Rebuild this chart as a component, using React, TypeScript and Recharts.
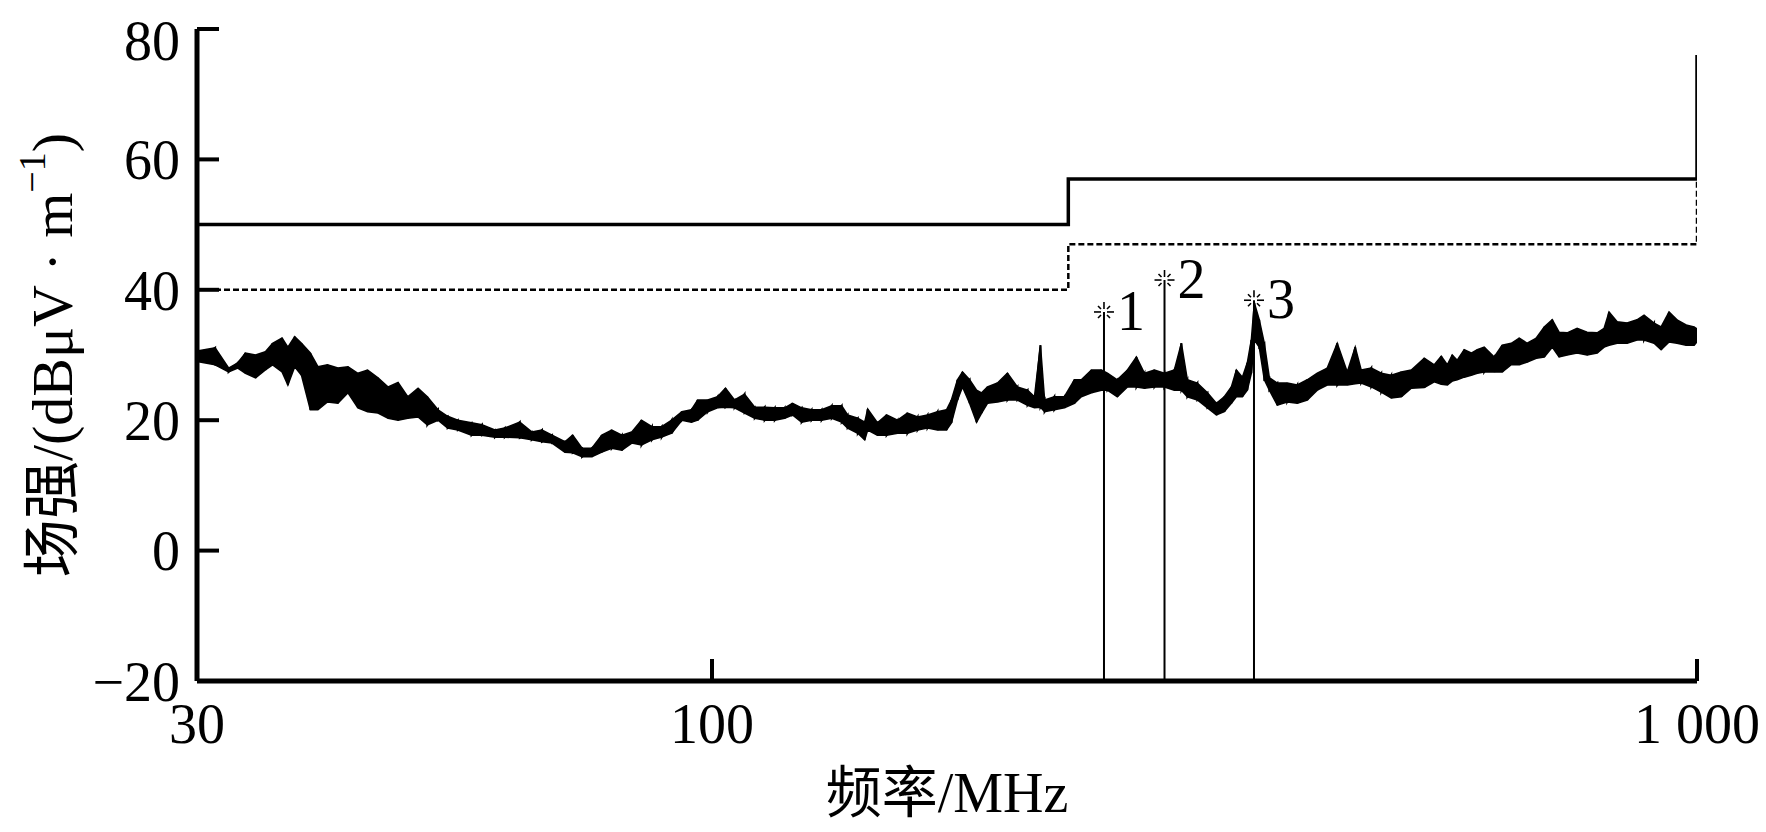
import { Area, ComposedChart, Line, Scatter, XAxis, YAxis } from "recharts";

const traceFreq = [
  30, 31.3, 32.3, 33.0, 33.6, 34.4, 35.2, 35.8, 36.6, 37.1, 37.7, 38.3, 39.1, 39.8, 40.7, 41.7, 42.7, 43.7,
  44.7, 45.8, 46.9, 48.0, 49.1, 50.3, 51.4, 52.7, 53.9, 55.2, 57.0, 58.4, 60.2, 61.6, 63.8, 65.6, 67.2, 68.8,
  70.9, 72.2, 73.8, 75.5, 77.3, 79.1, 81.0, 82.9, 84.8, 86.9, 88.9, 91.0, 93.2, 95.3, 96.7, 99.0, 101.3, 103.2,
  105.4, 107.9, 110.5, 113.1, 115.8, 118.5, 120.7, 123.3, 126.2, 129.2, 132.3, 135.4, 137.3, 140.6, 142.9,
  143.9, 147.2, 150.4, 154.3, 157.9, 161.7, 165.5, 169.4, 173.0, 175.0, 177.5, 179.6, 182.6, 185.6, 187.8,
  190.4, 194.9, 199.5, 204.2, 209.1, 212.5, 215.5, 217.6, 222.6, 227.9, 233.3, 237.1, 242.8, 248.5, 252.0,
  257.9, 264.1, 269.7, 274.8, 281.3, 287.9, 294.7, 299.6, 303.8, 311.0, 318.4, 325.1, 331.2, 336.7, 340.7,
  345.5, 349.5, 352.8, 355.3, 359.4, 363.7, 368.0, 374.9, 383.7, 392.8, 402.1, 411.6, 421.3, 431.3, 441.5,
  449.8, 456.1, 467.0, 478.0, 489.3, 501.0, 512.8, 528.6, 541.1, 550.0, 557.8, 564.3, 570.9, 580.3, 589.9,
  598.3, 608.1, 622.5, 634.2, 647.8, 660.0, 672.4, 686.8, 699.7, 712.9, 724.4, 738.1, 755.6, 773.4, 791.8,
  804.8, 814.2, 829.7, 849.2, 869.2, 883.6, 904.5, 919.5, 936.8, 954.4, 974.8, 993.1, 1000,
];
const traceLow = [
  29.0, 28.5, 27.4, 28.0, 27.2, 26.5, 27.7, 28.5, 27.4, 25.4, 28.2, 26.9, 21.6, 21.6, 22.8, 22.6, 24.2, 21.9,
  21.3, 21.1, 20.3, 20.0, 20.3, 20.5, 19.3, 20.0, 18.8, 18.5, 17.7, 17.7, 17.4, 17.4, 17.3, 17.0, 16.7, 16.5,
  15.1, 15.0, 14.4, 14.4, 15.1, 15.7, 15.4, 16.5, 16.2, 17.0, 17.4, 18.0, 20.0, 19.7, 20.0, 21.3, 21.9, 22.0,
  21.9, 21.1, 20.3, 20.0, 20.0, 20.3, 20.8, 19.7, 20.0, 20.0, 20.3, 19.7, 18.8, 18.0, 17.0,
  18.5, 17.7, 17.7, 18.0, 18.0, 18.5, 18.8, 18.5, 18.5, 19.6, 23.1, 25.1, 22.6, 19.7, 21.1,
  22.6, 22.8, 23.1, 23.1, 22.3, 21.9, 22.0, 21.3, 21.6, 21.9, 22.6, 23.6, 24.2, 24.6, 24.6,
  23.6, 25.1, 25.1, 24.9, 25.1, 25.1, 24.6, 24.6, 23.6, 23.1, 21.9, 20.8, 21.3, 22.6, 23.6,
  23.6, 24.6, 27.2, 32.3, 31.2, 26.2, 24.6, 22.3, 22.8, 22.6, 23.1, 24.6, 25.4, 25.4, 25.4,
  25.6, 25.7, 25.1, 24.3, 23.4, 23.6, 24.9, 25.0, 25.9, 25.5, 25.4, 26.0, 26.2, 26.6, 26.9,
  27.2, 27.4, 27.4, 27.4, 28.5, 28.5, 28.9, 29.5, 29.7, 31.2, 29.7, 30.0, 30.3, 30.0, 30.3,
  31.2, 31.5, 31.8, 31.8, 32.3, 32.3, 31.8, 30.8, 32.0, 31.8, 31.5, 31.5, 32.0,
];
const traceHigh = [
  30.6, 31.1, 28.0, 28.8, 30.3, 30.0, 30.5, 31.8, 32.6, 31.2, 32.8, 31.8, 30.3, 28.2, 28.5, 28.0, 28.2, 27.2,
  27.7, 26.5, 25.1, 25.8, 23.6, 24.9, 23.6, 21.6, 20.6, 20.0, 19.6, 19.3, 18.5, 18.8, 19.7, 18.2, 18.5, 17.7,
  16.7, 17.7, 15.7, 15.7, 17.7, 18.5, 17.7, 18.2, 20.0, 19.0, 19.0, 20.0, 21.3, 21.6, 23.1, 23.1, 23.6, 24.9,
  23.1, 24.0, 22.0, 22.0, 21.9, 21.9, 22.6, 21.9, 21.6, 21.6, 22.2, 22.2, 20.8, 20.3, 19.7,
  21.7, 19.6, 20.8, 20.0, 21.1, 20.5, 20.8, 21.3, 21.6, 23.1, 26.2, 27.4, 26.2, 24.6, 24.2,
  25.1, 25.7, 27.2, 25.1, 24.6, 23.6, 31.5, 23.1, 23.6, 23.6, 26.2, 26.2, 27.7, 27.7, 27.2,
  26.2, 27.7, 29.7, 27.2, 27.7, 27.2, 27.7, 31.8, 26.2, 25.7, 24.2, 22.6, 23.6, 25.1, 27.7,
  26.6, 28.8, 32.3, 38.0, 35.4, 31.8, 26.5, 25.7, 25.7, 25.4, 26.2, 27.2, 28.0, 31.8, 27.4,
  31.2, 27.7, 28.0, 27.2, 26.9, 27.4, 27.7, 29.5, 28.5, 29.8, 28.5, 30.0, 29.2, 30.8, 30.3,
  30.8, 31.2, 29.7, 31.5, 31.8, 32.6, 31.8, 32.6, 34.3, 35.4, 33.5, 33.4, 34.1, 33.5, 33.4,
  34.1, 36.6, 35.1, 34.9, 35.4, 36.1, 34.9, 34.3, 36.6, 35.4, 34.6, 34.3, 34.0,
];

// limit lines (stepped)
const limitFreq = [30, 230, 230, 1000, 1000];
const limitSolid = [50, 50, 57, 57, 76];
const limitDashed = [40, 40, 47, 47, 57];

// peak markers
const markerFreq = [250, 288, 355];
const markerLevel = [36.6, 41.5, 38.4];
const markerName = ["1", "2", "3"];

const xTicks = [30, 100, 1000];
const yTicks = [-20, 0, 20, 40, 60, 80];

const FONT = "'Liberation Serif', 'Times New Roman', 'Noto Sans CJK SC', serif";

const trace = traceFreq.flatMap((f, i) => [
  { f, v: traceHigh[i] },
  { f, v: traceLow[i] },
]);
const band = traceFreq.map((f, i) => ({ f, r: [traceLow[i], traceHigh[i]] }));
const solid = limitFreq.map((f, i) => ({ f, v: limitSolid[i] }));
const dashed = limitFreq.map((f, i) => ({ f, v: limitDashed[i] }));
const markers = markerFreq.map((f, i) => ({ f, v: markerLevel[i], name: markerName[i] }));

const Star = (props: any) => {
  const { cx, cy, payload } = props;
  const r = 10;
  const g = 3;
  return (
    <g>
      <g stroke="#000" strokeWidth={1.6}>
        <line x1={cx - r} y1={cy} x2={cx - g} y2={cy} />
        <line x1={cx + g} y1={cy} x2={cx + r} y2={cy} />
        <line x1={cx} y1={cy - r} x2={cx} y2={cy - g} />
        <line x1={cx - 6} y1={cy - 6} x2={cx - 3} y2={cy - 3} />
        <line x1={cx + 6} y1={cy - 6} x2={cx + 3} y2={cy - 3} />
        <line x1={cx - 6} y1={cy + 6} x2={cx - 3} y2={cy + 3} />
        <line x1={cx + 6} y1={cy + 6} x2={cx + 3} y2={cy + 3} />
      </g>
      <text x={cx + 13} y={cy + 18} fontSize={56} fontFamily={FONT} fill="#000">
        {payload.name}
      </text>
    </g>
  );
};

const YTitle = (props: any) => {
  const vb = props.viewBox || {};
  const cx = vb.x + 44;
  const cy = vb.y + vb.height / 2;
  return (
    <text
      x={cx}
      y={cy}
      transform={`rotate(-90, ${cx}, ${cy})`}
      textAnchor="middle"
      dominantBaseline="central"
      fontSize={58}
      fontFamily={FONT}
      fill="#000"
    >
      <tspan>场强/(dBμV · m</tspan>
      <tspan dy={-20} fontSize={38}>−1</tspan>
      <tspan dy={20}>)</tspan>
    </text>
  );
};

const XTitle = (props: any) => {
  const vb = props.viewBox || {};
  return (
    <text
      x={vb.x + vb.width / 2}
      y={vb.y + 131}
      textAnchor="middle"
      fontSize={56}
      fontFamily={FONT}
      fill="#000"
    >
      频率/MHz
    </text>
  );
};

const tickStyle = { fontSize: 56, fontFamily: FONT, fill: "#000" };

export default function App() {
  return (
    <div style={{ width: 1758, height: 816, background: "#fff" }}>
      <ComposedChart
        width={1758}
        height={816}
        margin={{ top: 21, right: 69, bottom: 0, left: 0 }}
      >
        <XAxis
          dataKey="f"
          type="number"
          scale="log"
          domain={[30, 1000]}
          ticks={xTicks}
          allowDataOverflow
          height={143}
          tickSize={-22}
          tickMargin={44}
          tick={tickStyle}
          tickFormatter={(v: number) => (v === 1000 ? "1 000" : String(v))}
          axisLine={{ stroke: "#000", strokeWidth: 5 }}
          tickLine={{ stroke: "#000", strokeWidth: 4 }}
          label={(p: any) => <XTitle {...p} />}
        />
        <YAxis
          type="number"
          domain={[-20, 80]}
          ticks={yTicks}
          allowDataOverflow
          width={189}
          tickSize={-22}
          tickMargin={39}
          tick={tickStyle}
          tickFormatter={(v: number) => (v < 0 ? `−${Math.abs(v)}` : String(v))}
          axisLine={{ stroke: "#000", strokeWidth: 5 }}
          tickLine={{ stroke: "#000", strokeWidth: 4 }}
          label={(p: any) => <YTitle {...p} />}
        />
        <Area
          data={band}
          dataKey="r"
          type="linear"
          stroke="#000"
          strokeWidth={1.5}
          fill="#000"
          fillOpacity={1}
          dot={false}
          activeDot={false}
          isAnimationActive={false}
        />
        <Line
          data={trace}
          dataKey="v"
          type="linear"
          stroke="#000"
          strokeWidth={2}
          dot={false}
          isAnimationActive={false}
        />
        <Line
          data={solid}
          dataKey="v"
          type="linear"
          stroke="#000"
          strokeWidth={3.5}
          dot={false}
          isAnimationActive={false}
        />
        <Line
          data={dashed}
          dataKey="v"
          type="linear"
          stroke="#000"
          strokeWidth={2.5}
          strokeDasharray="6 3"
          dot={false}
          isAnimationActive={false}
        />
        {markers.map((m) => (
          <Line
            key={m.name}
            data={[
              { f: m.f, v: -20 },
              { f: m.f, v: m.v },
            ]}
            dataKey="v"
            type="linear"
            stroke="#000"
            strokeWidth={2}
            dot={false}
            isAnimationActive={false}
          />
        ))}
        <Scatter data={markers} dataKey="v" shape={Star} isAnimationActive={false} />
      </ComposedChart>
    </div>
  );
}
